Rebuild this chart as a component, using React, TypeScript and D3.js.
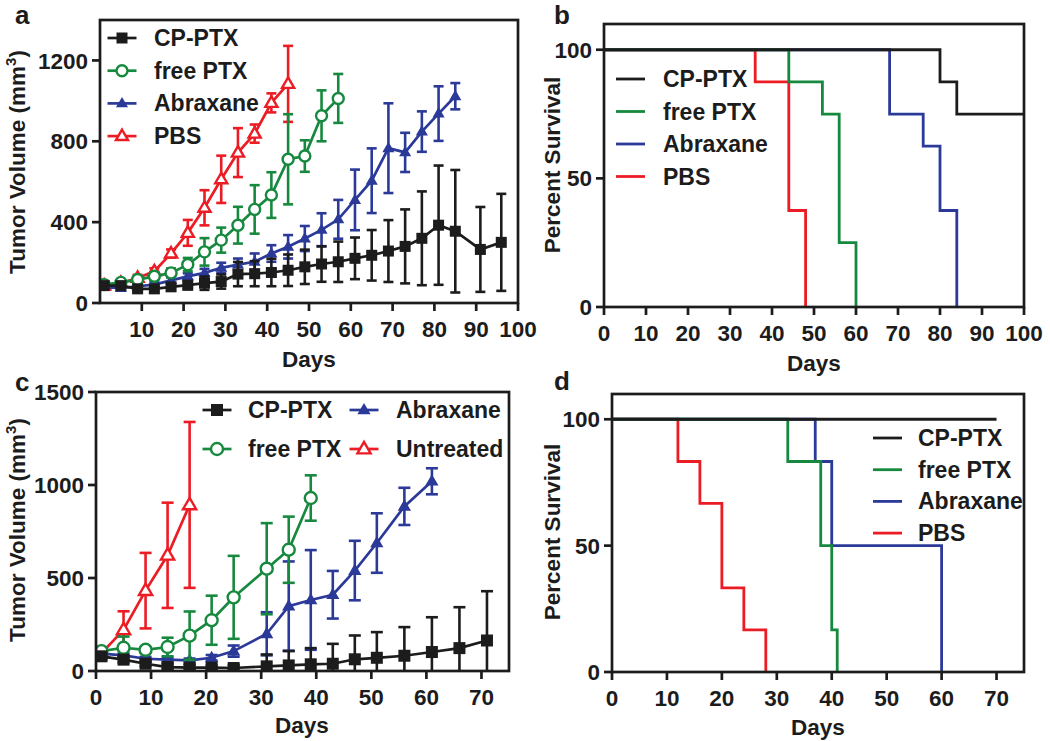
import React from 'react';
import * as d3 from 'd3';

const FONT = '"Liberation Sans", Arial, Helvetica, sans-serif';
const BLACK = '#1c1c1c';
const GREEN = '#17893e';
const BLUE = '#2b3a98';
const RED = '#ec1c24';

// ---------- Panel a : tumor growth ----------
const aCpDays = [1, 5, 9, 13, 17, 21, 25, 29, 33, 37, 41, 45, 49, 53, 57, 61, 65, 69, 73, 77, 81, 85, 91, 96];
const aCpMean = [86, 86, 70, 70, 80, 88, 98, 106, 143, 145, 151, 162, 179, 193, 204, 221, 236, 257, 280, 320, 385, 355, 265, 300];
const aCpSd = [10, 10, 12, 12, 15, 20, 33, 35, 60, 62, 68, 78, 85, 88, 100, 103, 125, 153, 183, 232, 295, 303, 210, 240];

const aFreeDays = [1, 5, 9, 13, 17, 21, 25, 29, 33, 37, 41, 45, 49, 53, 57];
const aFreeMean = [91, 102, 116, 132, 149, 190, 253, 311, 385, 463, 534, 711, 727, 926, 1012];
const aFreeSd = [8, 10, 12, 18, 22, 33, 68, 62, 91, 120, 113, 223, 78, 126, 121];

const aAbxDays = [1, 5, 9, 13, 17, 21, 25, 29, 33, 37, 41, 45, 49, 53, 57, 61, 65, 69, 73, 77, 81, 85];
const aAbxMean = [79, 74, 83, 91, 112, 132, 149, 174, 190, 204, 245, 278, 319, 362, 414, 510, 605, 766, 745, 848, 937, 1023];
const aAbxSd = [10, 10, 10, 12, 15, 15, 20, 25, 30, 41, 41, 58, 62, 82, 96, 150, 160, 222, 97, 100, 135, 65];

const aPbsDays = [1, 5, 9, 13, 17, 21, 25, 29, 33, 37, 41, 45];
const aPbsMean = [86, 99, 124, 157, 245, 347, 471, 612, 744, 838, 990, 1084];
const aPbsSd = [8, 10, 15, 15, 20, 64, 87, 117, 121, 45, 47, 188];

// ---------- Panel c : tumor growth ----------
const cCpDays = [1, 5, 9, 13, 17, 21, 25, 31, 35, 39, 43, 47, 51, 56, 61, 66, 71];
const cCpMean = [79, 61, 39, 21, 18, 18, 16, 25, 30, 36, 39, 63, 71, 82, 102, 123, 164];
const cCpSd = [15, 15, 12, 10, 10, 12, 15, 64, 77, 87, 107, 128, 138, 154, 187, 220, 265];

const cFreeDays = [1, 5, 9, 13, 17, 21, 25, 31, 35, 39];
const cFreeMean = [107, 125, 114, 129, 190, 273, 396, 550, 652, 930];
const cFreeSd = [10, 60, 15, 50, 130, 132, 223, 245, 178, 122];

const cAbxDays = [1, 5, 9, 13, 17, 21, 25, 31, 35, 39, 43, 47, 51, 56, 61];
const cAbxMean = [93, 84, 66, 61, 57, 71, 107, 200, 349, 382, 410, 540, 688, 885, 1020];
const cAbxSd = [10, 10, 10, 10, 10, 15, 30, 116, 240, 268, 128, 160, 160, 100, 70];

const cUntDays = [1, 5, 9, 13, 17];
const cUntMean = [96, 221, 432, 622, 893];
const cUntSd = [10, 100, 203, 283, 446];

// ---------- Panel b : survival ----------
const bCpT = [0, 80, 84, 100];
const bCpS = [100, 87.5, 75, 75];
const bFreeT = [0, 44, 52, 56, 60];
const bFreeS = [100, 87.5, 75, 25, 0];
const bAbxT = [0, 68, 76, 80, 84];
const bAbxS = [100, 75, 62.5, 37.5, 0];
const bPbsT = [0, 36, 44, 48];
const bPbsS = [100, 87.5, 37.5, 0];

// ---------- Panel d : survival ----------
const dCpT = [0, 70];
const dCpS = [100, 100];
const dFreeT = [0, 32, 38, 40, 41];
const dFreeS = [100, 83.3, 50, 16.7, 0];
const dAbxT = [0, 37, 40, 60];
const dAbxS = [100, 83.3, 50, 0];
const dPbsT = [0, 12, 16, 20, 24, 28];
const dPbsS = [100, 83.3, 66.7, 33.3, 16.7, 0];

const aXTicks = [10, 20, 30, 40, 50, 60, 70, 80, 90, 100];
const aYTicks = [0, 400, 800, 1200];
const bXTicks = [0, 10, 20, 30, 40, 50, 60, 70, 80, 90, 100];
const survYTicks = [0, 50, 100];
const cXTicks = [0, 10, 20, 30, 40, 50, 60, 70];
const cYTicks = [0, 500, 1000, 1500];

type MarkerKind = 'square' | 'circle' | 'triFill' | 'triOpen';

type GSeries = {
  name: string;
  color: string;
  marker: MarkerKind;
  days: number[];
  mean: number[];
  sd: number[];
};

type SSeries = { name: string; color: string; t: number[]; s: number[] };

function Marker({ kind, x, y, color, size }: { kind: MarkerKind; x: number; y: number; color: string; size: number }) {
  if (kind === 'square') {
    return <rect x={x - size / 2} y={y - size / 2} width={size} height={size} fill={color} />;
  }
  if (kind === 'circle') {
    return <circle cx={x} cy={y} r={size / 2} fill="#fff" stroke={color} strokeWidth={2.4} />;
  }
  const h = size * 0.95;
  const w = size * 1.1;
  const pts = `${x},${y - h * 0.62} ${x + w / 2},${y + h * 0.38} ${x - w / 2},${y + h * 0.38}`;
  if (kind === 'triFill') return <polygon points={pts} fill={color} />;
  return <polygon points={pts} fill="#fff" stroke={color} strokeWidth={2.4} strokeLinejoin="miter" />;
}

type Frame = {
  id: string;
  x0: number; x1: number; y0: number; y1: number;
  xd: [number, number]; yd: [number, number];
  xticks: number[]; yticks: number[];
};

function Axes({ f, xs, ys }: { f: Frame; xs: d3.ScaleLinear<number, number>; ys: d3.ScaleLinear<number, number> }) {
  const tl = 8;
  return (
    <g>
      <rect x={f.x0} y={f.y1} width={f.x1 - f.x0} height={f.y0 - f.y1} fill="none" stroke={BLACK} strokeWidth={2.7} />
      {f.xticks.map((t) => (
        <g key={'x' + t}>
          <line x1={xs(t)} x2={xs(t)} y1={f.y0} y2={f.y0 + tl} stroke={BLACK} strokeWidth={2.7} />
          <text x={xs(t)} y={f.y0 + 34} textAnchor="middle" fontSize={22.5} fontWeight="bold" fontFamily={FONT} fill={BLACK}>
            {t}
          </text>
        </g>
      ))}
      {f.yticks.map((t) => (
        <g key={'y' + t}>
          <line x1={f.x0 - tl} x2={f.x0} y1={ys(t)} y2={ys(t)} stroke={BLACK} strokeWidth={2.7} />
          <text x={f.x0 - 12} y={ys(t)} dy="0.36em" textAnchor="end" fontSize={22.5} fontWeight="bold" fontFamily={FONT} fill={BLACK}>
            {t}
          </text>
        </g>
      ))}
    </g>
  );
}

function GrowthPanel({ f, series, mSize, cap }: { f: Frame; series: GSeries[]; mSize: number; cap: number }) {
  const xs = d3.scaleLinear().domain(f.xd).range([f.x0, f.x1]);
  const ys = d3.scaleLinear().domain(f.yd).range([f.y0, f.y1]);
  const line = d3
    .line<[number, number]>()
    .x((d) => xs(d[0]))
    .y((d) => ys(d[1]));
  return (
    <g>
      <defs>
        <clipPath id={f.id}>
          <rect x={f.x0} y={f.y1} width={f.x1 - f.x0} height={f.y0 - f.y1} />
        </clipPath>
      </defs>
      <g clipPath={`url(#${f.id})`}>
        {series.map((s) => (
          <g key={s.name}>
            {s.days.map((d, i) => {
              const x = xs(d);
              const yt = ys(s.mean[i] + s.sd[i]);
              const yb = ys(s.mean[i] - s.sd[i]);
              return (
                <g key={i} stroke={s.color} strokeWidth={2.6}>
                  <line x1={x} x2={x} y1={yt} y2={yb} />
                  <line x1={x - cap / 2} x2={x + cap / 2} y1={yt} y2={yt} />
                  <line x1={x - cap / 2} x2={x + cap / 2} y1={yb} y2={yb} />
                </g>
              );
            })}
            <path
              d={line(s.days.map((d, i) => [d, s.mean[i]] as [number, number])) || ''}
              fill="none"
              stroke={s.color}
              strokeWidth={2.7}
            />
            {s.days.map((d, i) => (
              <Marker key={'m' + i} kind={s.marker} x={xs(d)} y={ys(s.mean[i])} color={s.color} size={mSize} />
            ))}
          </g>
        ))}
      </g>
      <Axes f={f} xs={xs} ys={ys} />
    </g>
  );
}

function SurvivalPanel({ f, series }: { f: Frame; series: SSeries[] }) {
  const xs = d3.scaleLinear().domain(f.xd).range([f.x0, f.x1]);
  const ys = d3.scaleLinear().domain(f.yd).range([f.y0, f.y1]);
  const line = d3
    .line<[number, number]>()
    .x((d) => xs(d[0]))
    .y((d) => ys(d[1]))
    .curve(d3.curveStepAfter);
  return (
    <g>
      {series.map((s) => (
        <path
          key={s.name}
          d={line(s.t.map((t, i) => [t, s.s[i]] as [number, number])) || ''}
          fill="none"
          stroke={s.color}
          strokeWidth={2.8}
        />
      ))}
      <Axes f={f} xs={xs} ys={ys} />
    </g>
  );
}

function Txt(props: any) {
  return <text fontFamily={FONT} fontWeight="bold" fill={BLACK} {...props} />;
}

function YTitle({ x, y, children }: { x: number; y: number; children: any }) {
  return (
    <Txt transform={`translate(${x},${y}) rotate(-90)`} textAnchor="middle" fontSize={22.5}>
      {children}
    </Txt>
  );
}

function GrowthLegendItem({ x, y, textX, s, mSize }: { x: number; y: number; textX: number; s: GSeries; mSize: number }) {
  return (
    <g>
      <line x1={x - 14.5} x2={x + 14.5} y1={y} y2={y} stroke={s.color} strokeWidth={2.7} />
      <Marker kind={s.marker} x={x} y={y} color={s.color} size={mSize} />
      <Txt x={textX} y={y} dy="0.35em" fontSize={23}>
        {s.name}
      </Txt>
    </g>
  );
}

export default function App() {
  const fa: Frame = { id: 'clipA', x0: 100, x1: 518, y0: 303, y1: 20, xd: [0, 100], yd: [0, 1400], xticks: aXTicks, yticks: aYTicks };
  const fb: Frame = { id: 'clipB', x0: 604, x1: 1024, y0: 307, y1: 24, xd: [0, 100], yd: [0, 110], xticks: bXTicks, yticks: survYTicks };
  const fc: Frame = { id: 'clipC', x0: 96, x1: 509, y0: 671, y1: 392, xd: [0, 75], yd: [0, 1500], xticks: cXTicks, yticks: cYTicks };
  const fd: Frame = { id: 'clipD', x0: 612, x1: 1024, y0: 672, y1: 394, xd: [0, 75], yd: [0, 110], xticks: cXTicks, yticks: survYTicks };

  const aCp: GSeries = { name: 'CP-PTX', color: BLACK, marker: 'square', days: aCpDays, mean: aCpMean, sd: aCpSd };
  const aFree: GSeries = { name: 'free PTX', color: GREEN, marker: 'circle', days: aFreeDays, mean: aFreeMean, sd: aFreeSd };
  const aAbx: GSeries = { name: 'Abraxane', color: BLUE, marker: 'triFill', days: aAbxDays, mean: aAbxMean, sd: aAbxSd };
  const aPbs: GSeries = { name: 'PBS', color: RED, marker: 'triOpen', days: aPbsDays, mean: aPbsMean, sd: aPbsSd };

  const cCp: GSeries = { name: 'CP-PTX', color: BLACK, marker: 'square', days: cCpDays, mean: cCpMean, sd: cCpSd };
  const cFree: GSeries = { name: 'free PTX', color: GREEN, marker: 'circle', days: cFreeDays, mean: cFreeMean, sd: cFreeSd };
  const cAbx: GSeries = { name: 'Abraxane', color: BLUE, marker: 'triFill', days: cAbxDays, mean: cAbxMean, sd: cAbxSd };
  const cUnt: GSeries = { name: 'Untreated', color: RED, marker: 'triOpen', days: cUntDays, mean: cUntMean, sd: cUntSd };

  const bSeries: SSeries[] = [
    { name: 'PBS', color: RED, t: bPbsT, s: bPbsS },
    { name: 'Abraxane', color: BLUE, t: bAbxT, s: bAbxS },
    { name: 'free PTX', color: GREEN, t: bFreeT, s: bFreeS },
    { name: 'CP-PTX', color: BLACK, t: bCpT, s: bCpS },
  ];
  const dSeries: SSeries[] = [
    { name: 'PBS', color: RED, t: dPbsT, s: dPbsS },
    { name: 'Abraxane', color: BLUE, t: dAbxT, s: dAbxS },
    { name: 'free PTX', color: GREEN, t: dFreeT, s: dFreeS },
    { name: 'CP-PTX', color: BLACK, t: dCpT, s: dCpS },
  ];
  const survLegend = [bSeries[3], bSeries[2], bSeries[1], bSeries[0]];

  return (
    <svg width={1050} height={741} style={{ position: 'absolute', left: 0, top: 0, background: '#fff' }}>
      <rect x={0} y={0} width={1050} height={741} fill="#fff" />

      {/* Panel a */}
      <GrowthPanel f={fa} series={[aPbs, aAbx, aFree, aCp]} mSize={11} cap={10} />
      {[aCp, aFree, aAbx, aPbs].map((s, i) => (
        <GrowthLegendItem key={s.name} x={122} y={38 + i * 32.7} textX={154} s={s} mSize={11} />
      ))}
      <YTitle x={25} y={162}>
        Tumor Volume (mm
        <tspan fontSize={15} dy={-9}>3</tspan>
        <tspan dy={9}>)</tspan>
      </YTitle>
      <Txt x={309} y={367} textAnchor="middle" fontSize={22.5}>Days</Txt>
      <Txt x={15} y={24} fontSize={26}>a</Txt>

      {/* Panel b */}
      <SurvivalPanel f={fb} series={bSeries} />
      {survLegend.map((s, i) => (
        <g key={s.name}>
          <line x1={616} x2={645} y1={79 + i * 32.5} y2={79 + i * 32.5} stroke={s.color} strokeWidth={2.8} />
          <Txt x={663} y={79 + i * 32.5} dy="0.35em" fontSize={23}>{s.name}</Txt>
        </g>
      ))}
      <YTitle x={560} y={165}>Percent Survival</YTitle>
      <Txt x={814} y={371} textAnchor="middle" fontSize={22.5}>Days</Txt>
      <Txt x={554} y={24} fontSize={26}>b</Txt>

      {/* Panel c */}
      <GrowthPanel f={fc} series={[cUnt, cAbx, cFree, cCp]} mSize={12} cap={12} />
      <GrowthLegendItem x={217} y={410} textX={248} s={cCp} mSize={12} />
      <GrowthLegendItem x={217} y={449} textX={248} s={cFree} mSize={12} />
      <GrowthLegendItem x={364} y={410} textX={396} s={cAbx} mSize={12} />
      <GrowthLegendItem x={364} y={449} textX={396} s={cUnt} mSize={12} />
      <YTitle x={25} y={530}>
        Tumor Volume (mm
        <tspan fontSize={15} dy={-9}>3</tspan>
        <tspan dy={9}>)</tspan>
      </YTitle>
      <Txt x={302} y={733} textAnchor="middle" fontSize={22.5}>Days</Txt>
      <Txt x={15} y={391} fontSize={26}>c</Txt>

      {/* Panel d */}
      <SurvivalPanel f={fd} series={dSeries} />
      {survLegend.map((s, i) => (
        <g key={'d' + s.name}>
          <line x1={873} x2={902} y1={438 + i * 31.7} y2={438 + i * 31.7} stroke={s.color} strokeWidth={2.8} />
          <Txt x={918} y={438 + i * 31.7} dy="0.35em" fontSize={23}>{s.name}</Txt>
        </g>
      ))}
      <YTitle x={560} y={532}>Percent Survival</YTitle>
      <Txt x={818} y={735} textAnchor="middle" fontSize={22.5}>Days</Txt>
      <Txt x={554} y={390} fontSize={26}>d</Txt>
    </svg>
  );
}
